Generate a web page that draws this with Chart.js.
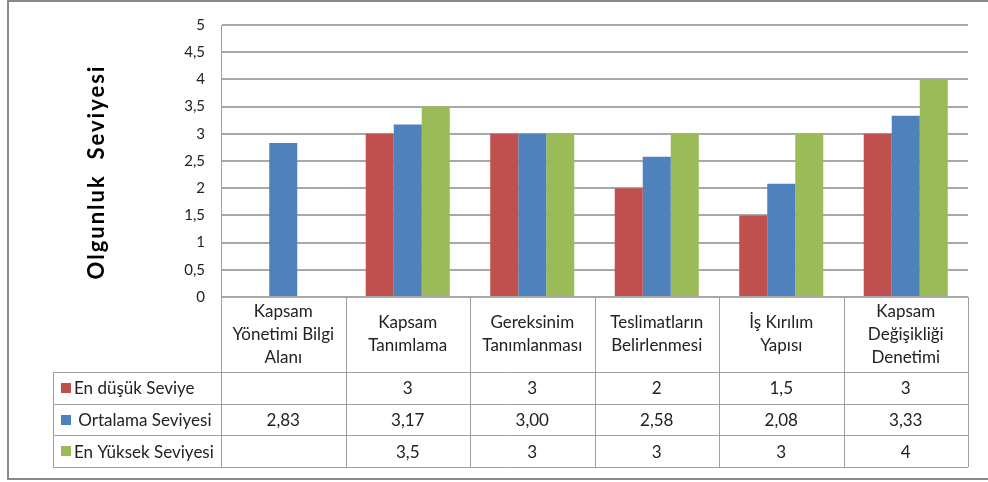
<!DOCTYPE html>
<html>
<head>
<meta charset="utf-8">
<script src="https://cdn.jsdelivr.net/npm/chart.js@4/dist/chart.umd.min.js"></script>
<style>
  html, body { margin: 0; padding: 0; background: #fff; }
  #wrap { width: 988px; height: 482px; position: relative; }
</style>
</head>
<body>
<div id="wrap"><canvas id="olgunluk" width="988" height="482"></canvas></div>
<script>
const categories = [
  ['Kapsam', 'Yönetimi Bilgi', 'Alanı'],
  ['Kapsam', 'Tanımlama'],
  ['Gereksinim', 'Tanımlanması'],
  ['Teslimatların', 'Belirlenmesi'],
  ['İş Kırılım', 'Yapısı'],
  ['Kapsam', 'Değişikliği', 'Denetimi']
];
const enDusuk = [null, 3, 3, 2, 1.5, 3];
const ortalama = [2.83, 3.17, 3.00, 2.58, 2.08, 3.33];
const enYuksek = [null, 3.5, 3, 3, 3, 4];
const seriesNames = ['En düşük Seviye', ' Ortalama Seviyesi', 'En Yüksek Seviyesi'];
const seriesColors = ['#C0504D', '#4F81BD', '#9BBB59'];
const seriesDecimals = [null, 2, null];
const yTitle = 'Olgunluk  Seviyesi';

const FONT = 'Lato, "Liberation Sans", sans-serif';

function trNum(v, dec) {
  if (v === null || v === undefined) return '';
  const s = dec === null ? String(v) : v.toFixed(dec);
  return s.replace('.', ',');
}

// data table under the plot, the y title and the outer frame
const tablePlugin = {
  id: 'dataTable',
  afterDraw(chart) {
    const ctx = chart.ctx;
    const area = chart.chartArea;
    const x = chart.scales.x;
    const half = (x.getPixelForValue(1) - x.getPixelForValue(0)) / 2;
    const headBottom = area.bottom + 75;
    const rowH = 31.7;
    const legendLeft = 53;
    const rows = [enDusuk, ortalama, enYuksek];
    const tableBottom = headBottom + rowH * rows.length;

    ctx.save();
    ctx.strokeStyle = '#a0a0a0';
    ctx.lineWidth = 1;
    // vertical separators
    for (let i = 0; i <= categories.length; i++) {
      const px = Math.round(x.getPixelForValue(i) - half) + 0.5;
      ctx.beginPath();
      ctx.moveTo(px, area.bottom);
      ctx.lineTo(px, tableBottom);
      ctx.stroke();
    }
    // horizontal lines
    for (let r = 0; r <= rows.length; r++) {
      const py = Math.round(headBottom + r * rowH) + 0.5;
      ctx.beginPath();
      ctx.moveTo(legendLeft, py);
      ctx.lineTo(area.right, py);
      ctx.stroke();
    }
    ctx.beginPath();
    ctx.moveTo(legendLeft + 0.5, headBottom);
    ctx.lineTo(legendLeft + 0.5, tableBottom);
    ctx.stroke();

    ctx.fillStyle = '#222';
    ctx.font = '17px ' + FONT;
    ctx.textAlign = 'center';
    ctx.textBaseline = 'middle';
    const lineH = 23;
    categories.forEach((lines, i) => {
      const cx = x.getPixelForValue(i);
      const cy = (area.bottom + headBottom) / 2;
      lines.forEach((t, k) => {
        ctx.fillText(t, cx, cy + (k - (lines.length - 1) / 2) * lineH);
      });
    });

    rows.forEach((vals, r) => {
      const cy = headBottom + r * rowH + rowH / 2;
      vals.forEach((v, i) => {
        ctx.fillText(trNum(v, seriesDecimals[r]), x.getPixelForValue(i), cy + 1);
      });
      ctx.fillStyle = seriesColors[r];
      ctx.fillRect(61, Math.round(cy - 5), 10, 10);
      ctx.fillStyle = '#222';
      ctx.textAlign = 'left';
      ctx.fillText(seriesNames[r], 74, cy + 1);
      ctx.textAlign = 'center';
    });

    // rotated axis title
    ctx.save();
    ctx.translate(97, 172);
    ctx.rotate(-Math.PI / 2);
    ctx.font = 'bold 22px ' + FONT;
    ctx.letterSpacing = '2px';
    ctx.fillStyle = '#000';
    ctx.fillText(yTitle, 0, 0);
    ctx.restore();

    // outer frame
    ctx.strokeStyle = '#8a8a8a';
    ctx.lineWidth = 2;
    ctx.strokeRect(8, 1, 1000, 478);
    ctx.restore();
  }
};

new Chart(document.getElementById('olgunluk'), {
  type: 'bar',
  data: {
    labels: categories,
    datasets: [
      { label: seriesNames[0], data: enDusuk, backgroundColor: seriesColors[0] },
      { label: seriesNames[1], data: ortalama, backgroundColor: seriesColors[1] },
      { label: seriesNames[2], data: enYuksek, backgroundColor: seriesColors[2] }
    ]
  },
  options: {
    responsive: false,
    animation: false,
    devicePixelRatio: 1,
    layout: { padding: { top: 19, right: 20, bottom: 185, left: 0 } },
    datasets: {
      bar: { categoryPercentage: 0.675, barPercentage: 1, borderWidth: 0 }
    },
    plugins: {
      legend: { display: false },
      tooltip: { enabled: false }
    },
    scales: {
      x: { display: false },
      y: {
        min: 0,
        max: 5,
        afterFit(scale) { scale.width = 221; },
        border: { display: true, color: '#a0a0a0', width: 1 },
        grid: { color: '#a8a8a8', lineWidth: 2, drawTicks: false },
        ticks: {
          stepSize: 0.5,
          padding: 16,
          color: '#222',
          font: { family: FONT, size: 15 },
          callback: v => String(v).replace('.', ',')
        }
      }
    }
  },
  plugins: [tablePlugin]
});
</script>
</body>
</html>
